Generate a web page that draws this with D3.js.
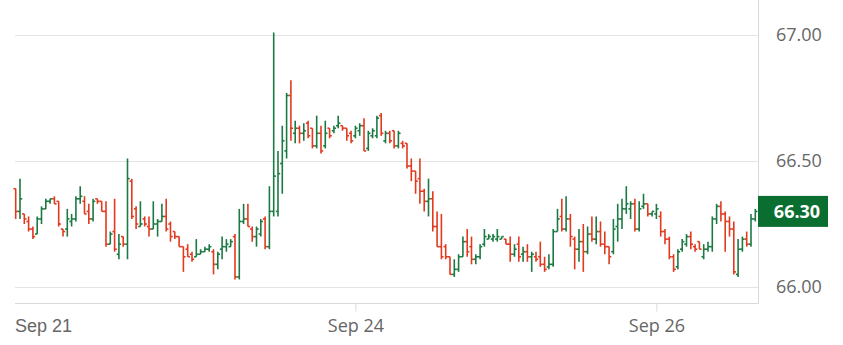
<!DOCTYPE html>
<html>
<head>
<meta charset="utf-8">
<script src="https://cdn.jsdelivr.net/npm/d3@7"></script>
<style>
body { margin: 0; background: #fff; }
svg { display: block; font-family: 'Open Sans', sans-serif; }
</style>
</head>
<body>
<svg id="chart"></svg>
<script>
// OHLC values, one entry per bar
var opens = [
  66.39, 66.30, 66.29, 66.26, 66.23, 66.21, 66.27, 66.31, 66.34, 66.35,
  66.34, 66.23, 66.23, 66.26, 66.27, 66.35, 66.34, 66.30, 66.27, 66.35,
  66.34, 66.30, 66.17, 66.22, 66.13, 66.20, 66.17, 66.42, 66.31, 66.24,
  66.27, 66.24, 66.23, 66.25, 66.26, 66.28, 66.25, 66.22, 66.20, 66.16,
  66.15, 66.13, 66.12, 66.13, 66.14, 66.15, 66.14, 66.09, 66.15, 66.16,
  66.16, 66.20, 66.04, 66.26, 66.27, 66.23, 66.20, 66.21, 66.27, 66.16,
  66.30, 66.30, 66.49, 66.54, 66.76, 66.61, 66.63, 66.61, 66.65, 66.63,
  66.56, 66.61, 66.56, 66.63, 66.62, 66.64, 66.64, 66.63, 66.61, 66.60,
  66.62, 66.64, 66.55, 66.60, 66.60, 66.68, 66.58, 66.61, 66.62, 66.56,
  66.57, 66.57, 66.48, 66.46, 66.43, 66.38, 66.34, 66.35, 66.24, 66.16,
  66.16, 66.12, 66.05, 66.07, 66.12, 66.18, 66.16, 66.11, 66.12, 66.17,
  66.19, 66.19, 66.19, 66.19, 66.19, 66.17, 66.13, 66.17, 66.13, 66.14,
  66.12, 66.12, 66.12, 66.09, 66.08, 66.09, 66.22, 66.28, 66.23, 66.27,
  66.19, 66.15, 66.18, 66.14, 66.21, 66.19, 66.22, 66.17, 66.16, 66.14,
  66.24, 66.27, 66.31, 66.31, 66.33, 66.23, 66.32, 66.33, 66.29, 66.29,
  66.28, 66.22, 66.19, 66.12, 66.08, 66.15, 66.17, 66.20, 66.16, 66.18,
  66.12, 66.15, 66.16, 66.27, 66.32, 66.29, 66.26, 66.23, 66.05, 66.15,
  66.19, 66.17, 66.27
];
var highs = [
  66.39, 66.43, 66.29, 66.28, 66.24, 66.28, 66.32, 66.35, 66.35, 66.36,
  66.34, 66.23, 66.31, 66.29, 66.36, 66.40, 66.36, 66.33, 66.35, 66.35,
  66.34, 66.34, 66.22, 66.35, 66.21, 66.20, 66.51, 66.43, 66.32, 66.34,
  66.28, 66.28, 66.34, 66.27, 66.33, 66.35, 66.26, 66.22, 66.20, 66.16,
  66.17, 66.14, 66.19, 66.15, 66.16, 66.17, 66.15, 66.14, 66.20, 66.19,
  66.19, 66.21, 66.31, 66.33, 66.33, 66.24, 66.24, 66.27, 66.28, 66.40,
  67.01, 66.54, 66.64, 66.77, 66.82, 66.66, 66.64, 66.65, 66.66, 66.63,
  66.68, 66.64, 66.66, 66.63, 66.64, 66.68, 66.64, 66.63, 66.62, 66.64,
  66.65, 66.67, 66.62, 66.63, 66.68, 66.69, 66.62, 66.62, 66.62, 66.62,
  66.58, 66.57, 66.51, 66.46, 66.51, 66.39, 66.43, 66.38, 66.30, 66.29,
  66.17, 66.12, 66.11, 66.13, 66.20, 66.23, 66.20, 66.13, 66.17, 66.23,
  66.21, 66.21, 66.23, 66.20, 66.19, 66.20, 66.17, 66.20, 66.16, 66.17,
  66.14, 66.14, 66.18, 66.12, 66.13, 66.23, 66.31, 66.35, 66.36, 66.29,
  66.20, 66.23, 66.25, 66.24, 66.28, 66.28, 66.26, 66.22, 66.16, 66.27,
  66.33, 66.35, 66.40, 66.34, 66.35, 66.34, 66.37, 66.33, 66.30, 66.33,
  66.30, 66.23, 66.20, 66.13, 66.15, 66.19, 66.21, 66.22, 66.17, 66.18,
  66.17, 66.18, 66.28, 66.33, 66.34, 66.30, 66.28, 66.26, 66.19, 66.20,
  66.22, 66.29, 66.31
];
var lows = [
  66.27, 66.27, 66.25, 66.22, 66.19, 66.21, 66.25, 66.31, 66.33, 66.33,
  66.24, 66.20, 66.20, 66.24, 66.26, 66.33, 66.29, 66.25, 66.26, 66.33,
  66.30, 66.16, 66.17, 66.14, 66.11, 66.16, 66.11, 66.27, 66.23, 66.24,
  66.24, 66.20, 66.23, 66.20, 66.26, 66.22, 66.18, 66.19, 66.16, 66.06,
  66.12, 66.10, 66.12, 66.13, 66.14, 66.14, 66.05, 66.07, 66.11, 66.14,
  66.16, 66.03, 66.03, 66.25, 66.24, 66.18, 66.16, 66.20, 66.15, 66.15,
  66.28, 66.28, 66.37, 66.51, 66.58, 66.57, 66.57, 66.58, 66.59, 66.55,
  66.55, 66.53, 66.55, 66.59, 66.61, 66.63, 66.62, 66.58, 66.57, 66.59,
  66.60, 66.54, 66.54, 66.59, 66.59, 66.60, 66.57, 66.57, 66.55, 66.55,
  66.55, 66.47, 66.42, 66.37, 66.33, 66.30, 66.28, 66.22, 66.16, 66.11,
  66.11, 66.05, 66.04, 66.06, 66.12, 66.12, 66.09, 66.09, 66.11, 66.16,
  66.19, 66.18, 66.18, 66.19, 66.17, 66.10, 66.12, 66.10, 66.10, 66.10,
  66.06, 66.10, 66.08, 66.06, 66.07, 66.08, 66.22, 66.22, 66.22, 66.16,
  66.07, 66.10, 66.06, 66.13, 66.18, 66.17, 66.16, 66.13, 66.09, 66.13,
  66.18, 66.23, 66.29, 66.27, 66.22, 66.22, 66.31, 66.28, 66.28, 66.27,
  66.20, 66.17, 66.11, 66.06, 66.07, 66.14, 66.16, 66.15, 66.14, 66.15,
  66.11, 66.14, 66.14, 66.25, 66.26, 66.14, 66.20, 66.05, 66.04, 66.14,
  66.16, 66.16, 66.26
];
var closes = [
  66.30, 66.35, 66.27, 66.23, 66.20, 66.27, 66.31, 66.34, 66.35, 66.33,
  66.25, 66.22, 66.27, 66.27, 66.35, 66.36, 66.29, 66.27, 66.34, 66.34,
  66.30, 66.17, 66.21, 66.15, 66.17, 66.17, 66.43, 66.28, 66.25, 66.25,
  66.25, 66.23, 66.25, 66.26, 66.28, 66.23, 66.20, 66.20, 66.16, 66.12,
  66.12, 66.11, 66.13, 66.14, 66.15, 66.16, 66.09, 66.13, 66.16, 66.17,
  66.18, 66.04, 66.26, 66.27, 66.24, 66.20, 66.23, 66.26, 66.16, 66.30,
  66.44, 66.45, 66.58, 66.76, 66.63, 66.63, 66.61, 66.62, 66.60, 66.56,
  66.61, 66.54, 66.61, 66.60, 66.63, 66.65, 66.63, 66.60, 66.58, 66.63,
  66.64, 66.54, 66.61, 66.62, 66.67, 66.61, 66.61, 66.58, 66.56, 66.61,
  66.56, 66.48, 66.46, 66.42, 66.38, 66.34, 66.35, 66.24, 66.16, 66.12,
  66.12, 66.05, 66.07, 66.12, 66.18, 66.14, 66.11, 66.12, 66.16, 66.20,
  66.20, 66.20, 66.20, 66.20, 66.17, 66.13, 66.15, 66.12, 66.14, 66.12,
  66.13, 66.11, 66.09, 66.07, 66.09, 66.22, 66.27, 66.23, 66.27, 66.20,
  66.15, 66.18, 66.14, 66.21, 66.19, 66.22, 66.17, 66.16, 66.12, 66.23,
  66.27, 66.31, 66.33, 66.33, 66.23, 66.31, 66.33, 66.29, 66.30, 66.31,
  66.22, 66.19, 66.12, 66.07, 66.14, 66.18, 66.20, 66.17, 66.15, 66.15,
  66.15, 66.16, 66.27, 66.32, 66.29, 66.26, 66.23, 66.06, 66.15, 66.19,
  66.17, 66.27, 66.30
];

var priceTicks = [66.00, 66.50, 67.00];
var dateTickIdx = [79, 149];
var dateTickLabels = ['Sep 24', 'Sep 26'];
var firstDateLabel = 'Sep 21';

var chart = {
    svg: null,
    width: 843,
    height: 345,
    plot_left: 15,
    plot_right: 758,
    plot_bottom: 303,
    font_size: 18,
    color_up: '#1b7a43',
    color_down: '#e3391f',
    color_grid: '#e3e3e3',
    color_border: '#dadada',
    color_text: '#666',
    color_last: '#0a6e30',

    draw: function() {
        var self = this;
        this.svg = d3.select('#chart')
            .attr('width', this.width)
            .attr('height', this.height);

        var n = closes.length;
        var x = d3.scaleLinear()
            .domain([0, n - 1])
            .range([15.7, 755.3]);
        var y = d3.scaleLinear()
            .domain([66, 67])
            .range([287, 35]);

        // price axis on the right, ticks stretched back as gridlines
        var gy = this.svg.append('g')
            .attr('transform', 'translate(' + this.plot_right + ',0)')
            .call(d3.axisRight(y)
                .tickValues(priceTicks)
                .tickFormat(d3.format('.2f'))
                .tickSize(-(this.plot_right - this.plot_left))
                .tickPadding(18));
        gy.select('.domain').remove();
        gy.selectAll('line').attr('stroke', this.color_grid);
        gy.selectAll('text')
            .attr('fill', this.color_text)
            .attr('font-size', this.font_size)
            .attr('font-family', "'Open Sans', sans-serif");

        // right border of the plot
        this.svg.append('line')
            .attr('x1', this.plot_right + 0.5).attr('x2', this.plot_right + 0.5)
            .attr('y1', 0).attr('y2', this.plot_bottom)
            .attr('stroke', this.color_border);

        // date axis
        var gx = this.svg.append('g')
            .attr('transform', 'translate(0,' + (this.plot_bottom + 0.5) + ')')
            .call(d3.axisBottom(x)
                .tickValues(dateTickIdx)
                .tickFormat(function(d, i) { return dateTickLabels[i]; })
                .tickSizeOuter(0)
                .tickSize(8)
                .tickPadding(8));
        gx.select('.domain')
            .attr('d', 'M' + this.plot_left + ',0H' + (this.plot_right + 1))
            .attr('stroke', this.color_border);
        gx.selectAll('line').attr('stroke', this.color_border);
        gx.selectAll('text')
            .attr('fill', this.color_text)
            .attr('font-size', this.font_size)
            .attr('font-family', "'Open Sans', sans-serif");
        gx.append('text')
            .attr('x', this.plot_left)
            .attr('y', 16)
            .attr('dy', '0.71em')
            .attr('text-anchor', 'start')
            .attr('fill', this.color_text)
            .attr('font-size', this.font_size)
            .text(firstDateLabel);

        // ohlc bars
        var bars = this.svg.append('g').selectAll('g')
            .data(d3.range(n))
            .join('g')
            .attr('stroke', function(i) {
                return closes[i] >= opens[i] ? self.color_up : self.color_down;
            })
            .attr('stroke-width', 1.6);
        bars.append('line')
            .attr('x1', function(i) { return x(i); })
            .attr('x2', function(i) { return x(i); })
            .attr('y1', function(i) { return y(highs[i]); })
            .attr('y2', function(i) { return y(lows[i]); });
        bars.append('line')
            .attr('x1', function(i) { return x(i) - 2.2; })
            .attr('x2', function(i) { return x(i); })
            .attr('y1', function(i) { return y(opens[i]); })
            .attr('y2', function(i) { return y(opens[i]); });
        bars.append('line')
            .attr('x1', function(i) { return x(i); })
            .attr('x2', function(i) { return x(i) + 2.2; })
            .attr('y1', function(i) { return y(closes[i]); })
            .attr('y2', function(i) { return y(closes[i]); });

        // last price marker
        var last = closes[n - 1];
        this.svg.append('rect')
            .attr('x', this.plot_right)
            .attr('y', y(last) - 15.5)
            .attr('width', 70)
            .attr('height', 31)
            .attr('fill', this.color_last);
        this.svg.append('text')
            .attr('x', 797)
            .attr('y', y(last))
            .attr('dy', '0.35em')
            .attr('text-anchor', 'middle')
            .attr('fill', 'white')
            .attr('font-size', this.font_size)
            .attr('font-weight', 'bold')
            .text(last.toFixed(2));
    }
};

chart.draw();
</script>
</body>
</html>
